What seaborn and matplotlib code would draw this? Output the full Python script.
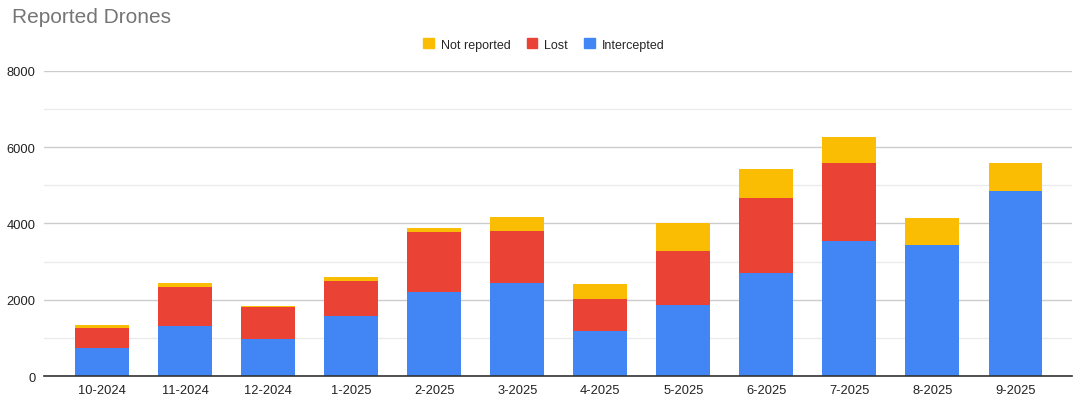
import matplotlib
matplotlib.use("Agg")
import matplotlib.pyplot as plt
import pandas as pd
import seaborn as sns
from matplotlib.patches import Patch
from matplotlib.ticker import MultipleLocator

months = ["10-2024", "11-2024", "12-2024", "1-2025", "2-2025", "3-2025",
          "4-2025", "5-2025", "6-2025", "7-2025", "8-2025", "9-2025"]
intercepted = [740, 1310, 980, 1570, 2190, 2430, 1170, 1870, 2710, 3550, 3440, 4860]
lost = [520, 1020, 830, 920, 1590, 1370, 850, 1410, 1950, 2040, 0, 0]
not_reported = [70, 95, 17, 95, 105, 365, 390, 730, 760, 670, 700, 720]

BLUE = "#4285F4"
RED = "#EA4335"
YELLOW = "#FBBC04"

sns.set_style("white")
plt.rcParams["font.family"] = ["Liberation Sans", "DejaVu Sans"]

df = pd.DataFrame({"month": months, "intercepted": intercepted,
                   "lost": lost, "not_reported": not_reported})
df["lost_top"] = df["intercepted"] + df["lost"]
df["total"] = df["lost_top"] + df["not_reported"]

fig = plt.figure(figsize=(10.83, 4.06), dpi=100)
ax = fig.add_axes([0.0406, 0.0714, 0.9492, 0.752])

# stacked bars drawn as overlapping cumulative totals
for col, colour in [("total", YELLOW), ("lost_top", RED), ("intercepted", BLUE)]:
    sns.barplot(data=df, x="month", y=col, color=colour, width=0.65,
                saturation=1, linewidth=0, edgecolor=colour, ax=ax, zorder=3)

ax.set_ylim(0, 8000)
ax.set_xlim(-0.7, 11.68)
ax.yaxis.set_major_locator(MultipleLocator(2000))
ax.yaxis.set_minor_locator(MultipleLocator(1000))
ax.grid(axis="y", which="major", color="#cccccc", linewidth=1, zorder=0)
ax.grid(axis="y", which="minor", color="#ebebeb", linewidth=1, zorder=0)
ax.set_axisbelow(True)

for side in ["top", "right", "left"]:
    ax.spines[side].set_visible(False)
ax.spines["bottom"].set_color("#333333")
ax.spines["bottom"].set_linewidth(1.2)
ax.spines["bottom"].set_zorder(4)

ax.tick_params(axis="both", which="both", length=0, labelsize=9.3,
               colors="#222222")
ax.tick_params(axis="y", pad=6)
ax.tick_params(axis="x", pad=6)
ax.set_xlabel("")
ax.set_ylabel("")

fig.text(0.011, 0.958, "Reported Drones", fontsize=15, color="#757575",
         ha="left", va="center")

handles = [Patch(color=YELLOW, label="Not reported"),
           Patch(color=RED, label="Lost"),
           Patch(color=BLUE, label="Intercepted")]
fig.legend(handles=handles, loc="center", bbox_to_anchor=(0.502, 0.888),
           ncol=3, frameon=False, fontsize=9, handlelength=0.85,
           handleheight=0.85, handletextpad=0.55, columnspacing=1.3)

fig.savefig("out.png", dpi=100)
